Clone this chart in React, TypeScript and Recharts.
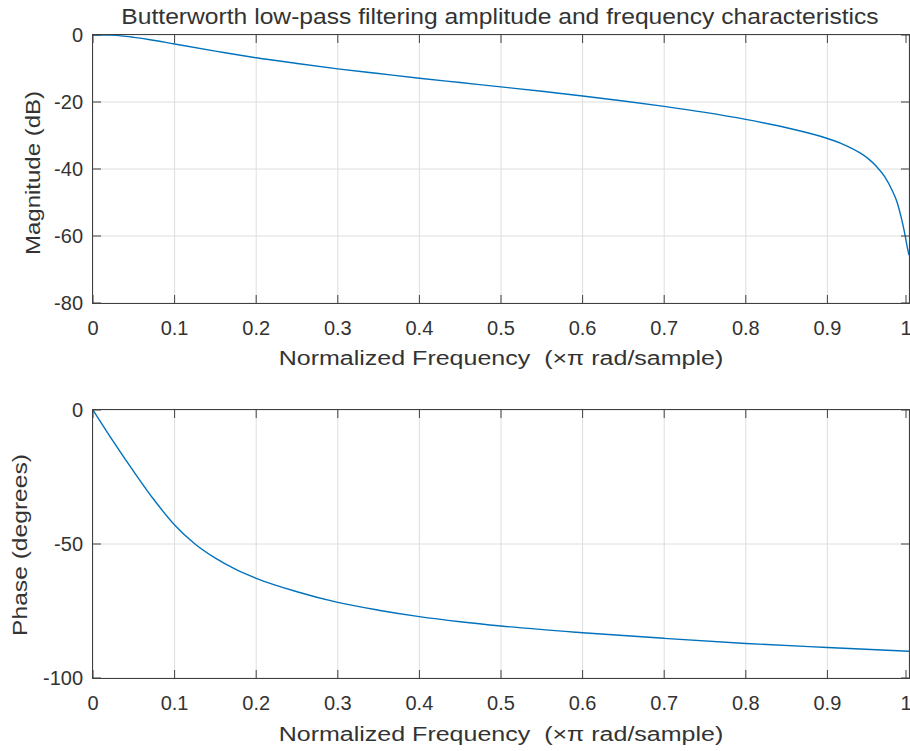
import { LineChart, Line, XAxis, YAxis, CartesianGrid } from "recharts"

// magnitude response (dB) vs normalized frequency
const MAG_FREQ = [0, 0.02, 0.04, 0.05, 0.07, 0.1, 0.15, 0.2, 0.25, 0.3, 0.35, 0.4, 0.45, 0.5, 0.55, 0.6, 0.65, 0.7, 0.75, 0.8, 0.85, 0.9, 0.92, 0.94, 0.95, 0.96, 0.97, 0.98, 0.985, 0.99, 0.995, 0.998, 1.0]
const MAG_DB = [0, -0.05, -0.4, -0.7, -1.4, -2.7, -4.8, -6.8, -8.5, -10.1, -11.5, -12.9, -14.2, -15.5, -16.8, -18.2, -19.7, -21.3, -23.1, -25.2, -27.7, -30.9, -32.7, -35.2, -36.9, -39.2, -42.2, -46.7, -49.6, -54, -59.5, -63.5, -65.7]

// phase response (degrees)
const PH_FREQ = [0, 0.025, 0.05, 0.075, 0.1, 0.125, 0.15, 0.175, 0.2, 0.25, 0.3, 0.35, 0.4, 0.45, 0.5, 0.6, 0.7, 0.8, 0.9, 1.0]
const PH_DEG = [0, -11.8, -23, -33.6, -42.9, -50, -55.3, -59.5, -62.8, -67.8, -71.8, -74.7, -77.1, -79, -80.6, -83.1, -85.2, -87.1, -88.6, -90]

const X_TICKS = [0, 0.1, 0.2, 0.3, 0.4, 0.5, 0.6, 0.7, 0.8, 0.9, 1]
const MAG_TICKS = [-80, -60, -40, -20, 0]
const PH_TICKS = [-100, -50, 0]

const magData = MAG_FREQ.map((f, i) => ({ f, v: MAG_DB[i] }))
const phData = PH_FREQ.map((f, i) => ({ f, v: PH_DEG[i] }))

const FONT = "'Liberation Sans', Arial, Helvetica, sans-serif"
const AXIS = "#404040"
const TEXT = "#333333"

// panel layout
const W = 910
const H = 375
const MARGIN = { top: 35, right: 1, left: 33, bottom: 32 }
const Y_AXIS_W = 60
const X_AXIS_H = 40
const PLOT_L = MARGIN.left + Y_AXIS_W
const PLOT_R = W - MARGIN.right
const PLOT_T = MARGIN.top
const PLOT_B = H - MARGIN.bottom - X_AXIS_H
const TICK_LEN = 8

// x tick: label below the box plus inward marks at bottom and top
function XTick({ x, y, payload }: any) {
  return (
    <g>
      <line x1={x} x2={x} y1={PLOT_B} y2={PLOT_B - TICK_LEN} stroke={AXIS} strokeWidth={1} />
      <line x1={x} x2={x} y1={PLOT_T} y2={PLOT_T + TICK_LEN} stroke={AXIS} strokeWidth={1} />
      <text x={x} y={y} dy="0.71em" textAnchor="middle" fontFamily={FONT} fontSize={20} fill={TEXT}>
        {String(payload.value)}
      </text>
    </g>
  )
}

// y tick: label left of the box plus inward marks at left and right
function YTick({ x, y, payload }: any) {
  return (
    <g>
      <line x1={PLOT_L} x2={PLOT_L + TICK_LEN} y1={y} y2={y} stroke={AXIS} strokeWidth={1} />
      <line x1={PLOT_R} x2={PLOT_R - TICK_LEN} y1={y} y2={y} stroke={AXIS} strokeWidth={1} />
      <text x={x} y={y} dy="0.355em" textAnchor="end" fontFamily={FONT} fontSize={20} fill={TEXT}>
        {String(payload.value)}
      </text>
    </g>
  )
}

const renderPanel = (data: { f: number; v: number }[], ticks: number[], domain: number[]) => (
  <LineChart width={W} height={H} data={data} margin={MARGIN}>
    <CartesianGrid stroke="#dedede" />
    <XAxis
      dataKey="f"
      type="number"
      domain={[0, 1]}
      ticks={X_TICKS}
      height={X_AXIS_H}
      axisLine={false}
      tickLine={false}
      tickSize={0}
      tickMargin={18}
      tick={<XTick />}
    />
    <YAxis
      type="number"
      domain={domain}
      ticks={ticks}
      width={Y_AXIS_W}
      axisLine={false}
      tickLine={false}
      tickSize={0}
      tickMargin={10}
      tick={<YTick />}
    />
    <Line dataKey="v" type="monotone" stroke="#0072BD" strokeWidth={1.4} dot={false} isAnimationActive={false} />
  </LineChart>
)

// axes box drawn over the plot area
const box = (top: number): React.CSSProperties => ({
  position: "absolute",
  left: PLOT_L - 1,
  top: top + PLOT_T - 1,
  width: PLOT_R - PLOT_L + 2,
  height: PLOT_B - PLOT_T + 2,
  boxSizing: "border-box",
  border: `1.5px solid ${AXIS}`,
  pointerEvents: "none",
})

const label = (sx: number, extra: React.CSSProperties, rotate = false): React.CSSProperties => ({
  position: "absolute",
  fontFamily: FONT,
  fontSize: 20,
  color: TEXT,
  whiteSpace: "nowrap",
  transform: rotate
    ? `translate(-50%, -50%) rotate(-90deg) scaleX(${sx})`
    : `translate(-50%, -50%) scaleX(${sx})`,
  ...extra,
})

export default function App() {
  return (
    <div style={{ position: "absolute", left: 0, top: 0, width: 910, height: 751, background: "#ffffff", overflow: "hidden" }}>
      <div style={{ position: "absolute", left: 0, top: 0 }}>{renderPanel(magData, MAG_TICKS, [-80, 0])}</div>
      <div style={{ position: "absolute", left: 0, top: 375 }}>{renderPanel(phData, PH_TICKS, [-100, 0])}</div>
      <div style={box(0)} />
      <div style={box(375)} />

      <div style={label(1.12, { left: 500, top: 17, fontSize: 22 })}>
        Butterworth low-pass filtering amplitude and frequency characteristics
      </div>
      <div style={label(1.25, { left: 501, top: 358 })}>Normalized Frequency&nbsp;&nbsp;(×π rad/sample)</div>
      <div style={label(1.25, { left: 501, top: 734 })}>Normalized Frequency&nbsp;&nbsp;(×π rad/sample)</div>
      <div style={label(1.2, { left: 33, top: 173 }, true)}>Magnitude (dB)</div>
      <div style={label(1.23, { left: 20, top: 545 }, true)}>Phase (degrees)</div>
    </div>
  )
}
